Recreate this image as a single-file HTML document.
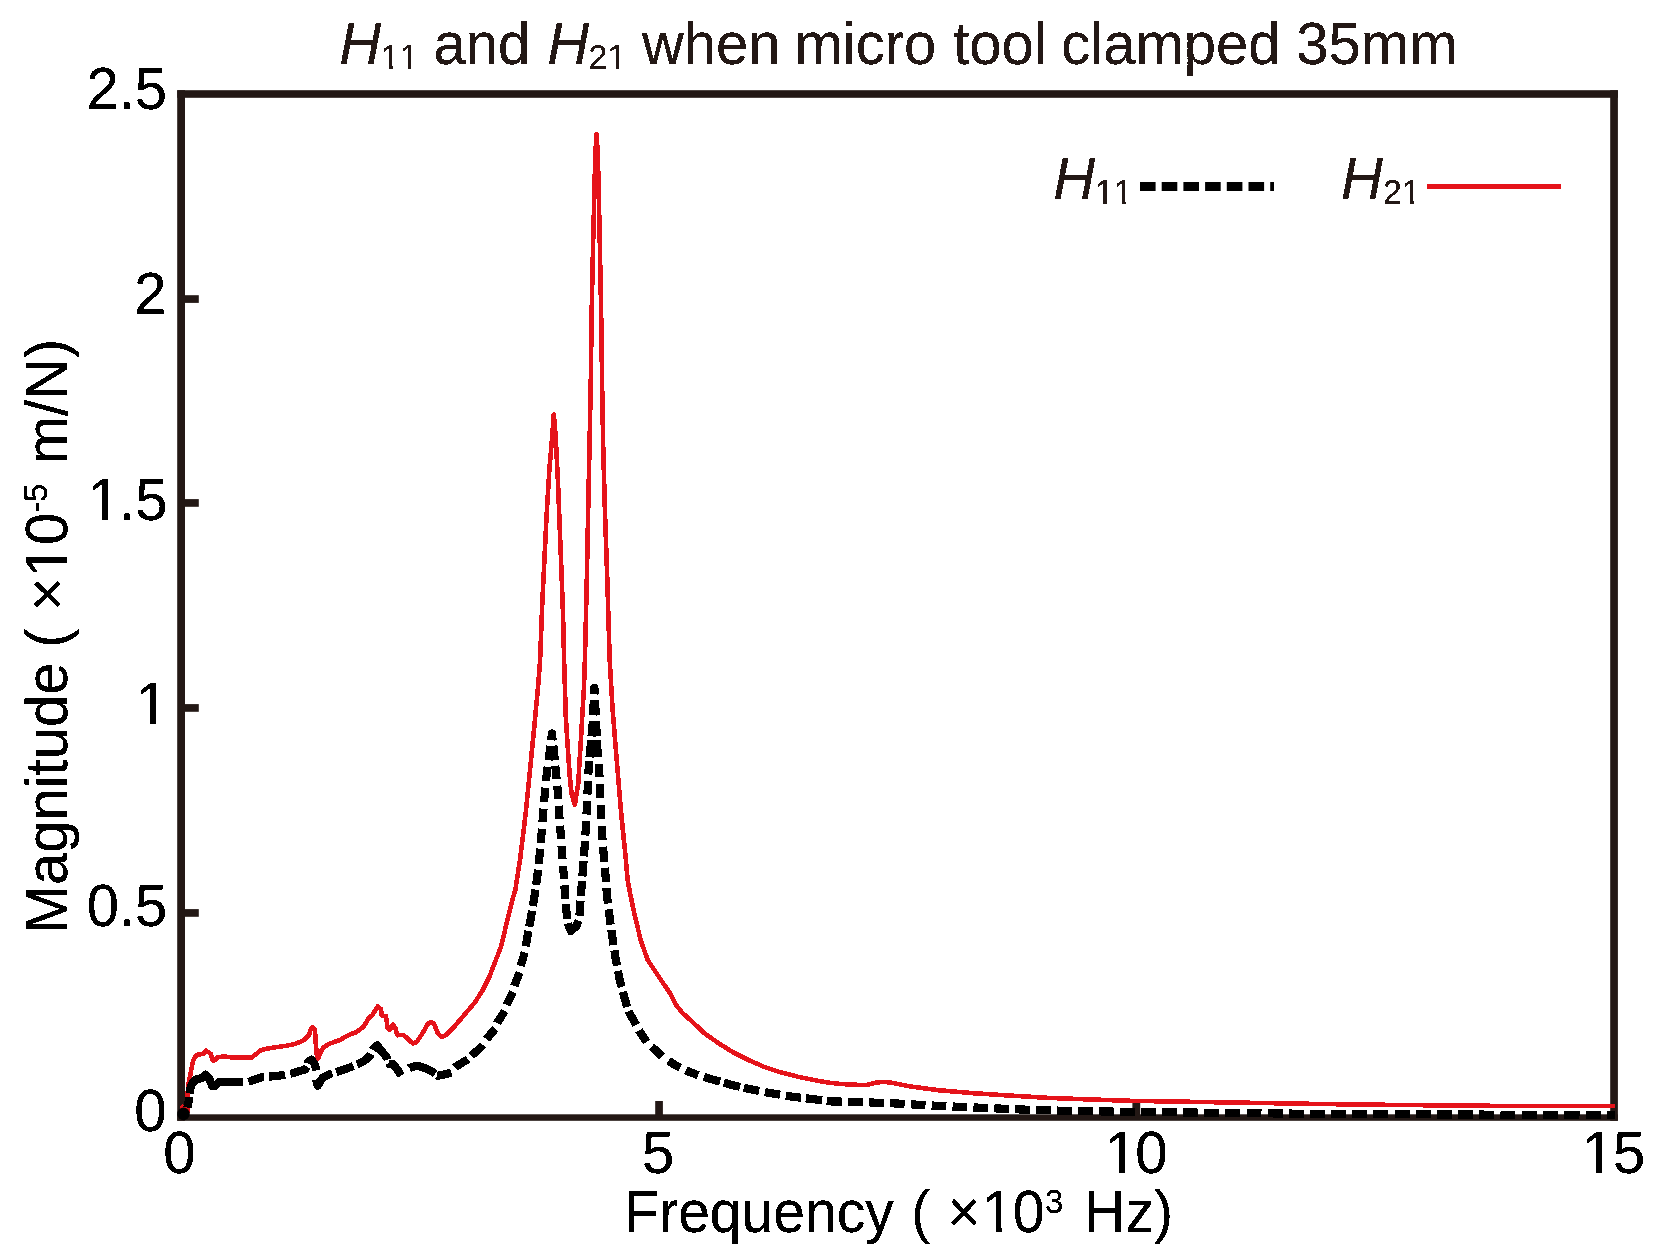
<!DOCTYPE html>
<html><head><meta charset="utf-8"><title>H11 and H21</title>
<style>
html,body{margin:0;padding:0;background:#fff;}
body{width:1661px;height:1259px;overflow:hidden;}
svg{display:block;}
text{font-family:"Liberation Sans",Arial,Helvetica,sans-serif;white-space:pre;font-kerning:none;}
.it{font-style:italic;}
</style></head><body>
<svg width="1661" height="1259" viewBox="0 0 1661 1259">
<rect width="1661" height="1259" fill="#fff"/>
<defs><filter id="bin" x="0" y="0" width="1661" height="1259" filterUnits="userSpaceOnUse" color-interpolation-filters="sRGB"><feComponentTransfer><feFuncA type="discrete" tableValues="0 1 1"/></feComponentTransfer></filter>
<clipPath id="c_title"><path clip-rule="evenodd" d="M-3000,-3000H3000V3000H-3000Z M383.14,1.92H389.18V6.55H383.14Z M392.47,1.92H398.24V6.55H392.47Z M401.94,1.92H407.98V6.55H401.94Z M411.27,1.92H417.04V6.55H411.27Z M609.67,1.92H615.71V6.55H609.67Z M618.99,1.92H624.77V6.55H618.99Z"/></clipPath>
<clipPath id="c_leg1"><path clip-rule="evenodd" d="M-3000,-3000H3000V3000H-3000Z M1097.29,1.44H1103.33V6.06H1097.29Z M1106.62,1.44H1112.39V6.06H1106.62Z M1116.09,1.44H1122.13V6.06H1116.09Z M1125.42,1.44H1131.19V6.06H1125.42Z"/></clipPath>
<clipPath id="c_leg2"><path clip-rule="evenodd" d="M-3000,-3000H3000V3000H-3000Z M1404.17,1.44H1410.21V6.06H1404.17Z M1413.49,1.44H1419.27V6.06H1413.49Z"/></clipPath>
<clipPath id="c_y15"><path clip-rule="evenodd" d="M-3000,-3000H3000V3000H-3000Z M91.65,-4.93H102.12V1.50H91.65Z M107.55,-4.93H117.57V1.50H107.55Z"/></clipPath>
<clipPath id="c_y10"><path clip-rule="evenodd" d="M-3000,-3000H3000V3000H-3000Z M139.80,-4.93H150.27V1.50H139.80Z M155.70,-4.93H165.71V1.50H155.70Z"/></clipPath>
<clipPath id="c_x10"><path clip-rule="evenodd" d="M-3000,-3000H3000V3000H-3000Z M1108.72,-4.93H1119.19V1.50H1108.72Z M1124.62,-4.93H1134.63V1.50H1124.62Z"/></clipPath>
<clipPath id="c_x15"><path clip-rule="evenodd" d="M-3000,-3000H3000V3000H-3000Z M1585.82,-4.93H1596.29V1.50H1585.82Z M1601.72,-4.93H1611.73V1.50H1601.72Z"/></clipPath>
<clipPath id="c_xlabel"><path clip-rule="evenodd" d="M-3000,-3000H3000V3000H-3000Z M985.72,-4.86H996.01V1.50H985.72Z M1001.34,-4.86H1011.19V1.50H1001.34Z"/></clipPath>
<clipPath id="c_ylabel"><path clip-rule="evenodd" d="M-3000,-3000H3000V3000H-3000Z M-573.23,-4.93H-562.76V1.50H-573.23Z M-557.33,-4.93H-547.32V1.50H-557.33Z"/></clipPath>
</defs>
<!-- frame -->
<g id="frame" fill="#231815">
<rect x="177.2" y="90.2" width="1440.7" height="7.6"/>
<rect x="177.2" y="90.2" width="7.8" height="1030.6"/>
<rect x="1610.2" y="90.2" width="7.7" height="1030.6"/>
<rect x="177.2" y="1114.3" width="1440.7" height="6.5"/>
<rect x="181" y="295.2" width="17.8" height="7.7"/>
<rect x="181" y="499.1" width="17.8" height="7.7"/>
<rect x="181" y="704.1" width="17.8" height="7.7"/>
<rect x="181" y="909.1" width="17.8" height="7.7"/>
<rect x="655.2" y="1101" width="7.7" height="16"/>
<rect x="1132.4" y="1101" width="7.8" height="16"/>
</g>
<!-- curves -->
<path id="h21" d="M180.8,1106.0 L184.5,1108.3 L187.7,1111.6 L187.9,1104.0 L187.6,1095.0 L188.0,1087.0 L189.2,1080.0 L190.3,1075.0 L191.6,1068.0 L193.2,1060.5 L195.2,1056.5 L197.3,1054.7 L199.3,1054.4 L203.6,1053.9 L206.0,1050.6 L210.8,1053.9 L212.3,1060.2 L215.2,1060.2 L217.6,1057.3 L223.4,1056.4 L231.1,1057.3 L251.8,1057.5 L260.9,1050.1 L266.7,1048.6 L276.3,1047.2 L286.0,1045.8 L295.6,1043.8 L303.3,1040.5 L309.1,1035.2 L310.5,1029.9 L312.5,1027.5 L314.9,1029.9 L315.8,1043.4 L316.8,1054.9 L318.2,1058.3 L320.7,1052.0 L323.5,1047.2 L330.3,1043.4 L339.6,1040.1 L351.2,1033.8 L356.0,1032.4 L363.7,1026.6 L368.5,1018.4 L372.4,1015.0 L377.7,1006.4 L381.1,1009.3 L381.5,1015.5 L385.9,1016.0 L387.8,1028.5 L389.7,1030.0 L393.1,1024.7 L395.5,1028.5 L397.4,1035.3 L403.2,1034.8 L407.1,1038.2 L412.9,1043.5 L416.7,1042.0 L422.5,1033.4 L428.3,1023.2 L431.2,1022.3 L434.0,1023.7 L437.9,1033.4 L441.8,1037.2 L445.6,1035.3 L455.2,1025.6 L464.9,1014.1 L474.5,1003.0 L482.9,989.8 L489.6,976.2 L496.2,959.1 L501.0,946.7 L503.6,935.9 L508.2,916.6 L512.0,901.2 L515.4,889.6 L516.8,880.0 L520.0,860.2 L525.8,812.5 L530.5,764.9 L534.3,726.7 L538.2,684.8 L540.1,660.0 L542.3,602.5 L544.5,558.0 L546.7,513.5 L549.4,469.0 L552.3,435.6 L553.8,414.5 L555.6,435.6 L557.9,480.1 L559.6,524.6 L561.4,569.1 L563.0,613.6 L564.1,660.0 L565.8,717.2 L569.6,774.4 L571.5,793.5 L574.8,804.9 L578.2,783.9 L581.1,736.3 L583.9,688.6 L584.9,660.0 L586.8,580.2 L588.1,513.5 L589.5,446.7 L590.8,380.0 L591.7,310.0 L593.1,243.3 L594.2,200.0 L595.2,157.0 L596.2,139.0 L596.5,134.0 L596.9,139.0 L597.9,157.0 L598.9,200.0 L599.8,243.3 L601.1,310.0 L602.2,389.8 L603.2,446.7 L605.0,513.5 L607.3,580.2 L609.7,660.0 L612.5,707.7 L616.3,755.3 L621.1,812.5 L625.9,860.2 L627.6,880.0 L630.5,895.3 L635.3,918.1 L641.0,941.0 L647.7,960.1 L655.3,971.5 L662.9,982.9 L669.6,992.5 L675.3,1003.9 L682.0,1012.5 L691.5,1021.1 L704.8,1033.5 L718.2,1043.0 L733.4,1052.5 L748.7,1060.1 L763.9,1066.8 L781.1,1072.5 L800.2,1077.3 L819.2,1081.1 L830.0,1082.8 L840.0,1083.9 L848.1,1084.4 L866.1,1085.2 L877.0,1082.4 L884.2,1081.9 L893.2,1083.0 L911.3,1086.6 L938.4,1090.2 L974.5,1093.3 L1010.6,1095.6 L1046.7,1097.8 L1082.8,1099.2 L1130.0,1100.8 L1250.0,1102.8 L1320.0,1104.0 L1400.0,1105.0 L1490.0,1105.8 L1615.1,1106.1" fill="none" stroke="#e5131a" stroke-width="4.6" stroke-linejoin="round" shape-rendering="crispEdges"/>
<path id="h11" d="M182.8,1116.5 L184.6,1111.5 L187.2,1108.0 L188.6,1102.0 L189.2,1096.5 L189.8,1091.0 L191.0,1086.0 L193.5,1081.5 L196.5,1079.2 L201.2,1078.2 L203.5,1077.0 L205.8,1074.7 L208.0,1077.0 L209.9,1080.0 L212.3,1086.2 L215.2,1085.7 L218.5,1082.4 L225.3,1081.9 L242.6,1081.9 L248.4,1081.9 L261.9,1077.1 L269.6,1076.6 L284.0,1075.1 L290.8,1073.7 L305.2,1069.4 L307.0,1066.0 L308.1,1061.7 L311.5,1059.7 L314.5,1064.0 L315.8,1067.4 L316.3,1080.0 L317.8,1085.7 L320.0,1081.5 L322.6,1078.0 L329.3,1074.2 L336.7,1071.9 L352.2,1066.6 L357.9,1064.2 L363.7,1061.3 L369.5,1056.5 L371.5,1052.5 L373.0,1049.5 L377.2,1045.4 L382.0,1051.7 L386.8,1057.4 L388.3,1061.5 L389.8,1064.3 L392.8,1063.8 L397.0,1069.0 L401.2,1075.6 L404.5,1073.5 L409.5,1068.0 L412.9,1067.0 L416.7,1065.6 L426.3,1068.5 L432.1,1071.4 L437.4,1075.8 L445.6,1074.2 L451.4,1072.3 L455.2,1067.1 L461.0,1063.4 L467.8,1059.4 L472.1,1055.0 L478.4,1049.7 L482.9,1044.9 L486.7,1039.1 L490.5,1034.2 L495.3,1028.7 L497.2,1022.9 L504.8,1011.0 L506.7,1004.8 L512.9,992.0 L514.4,985.8 L519.6,972.4 L520.6,965.7 L524.8,952.4 L527.0,938.8 L530.8,918.5 L534.2,898.3 L537.2,877.4 L539.5,856.4 L541.4,835.4 L542.9,816.4 L544.8,793.5 L546.7,774.4 L549.5,753.4 L551.9,733.5 L554.2,753.4 L555.9,772.5 L557.8,791.6 L559.1,812.5 L560.5,831.6 L562.0,852.6 L563.5,871.7 L564.9,892.6 L566.5,911.8 L568.0,923.5 L570.8,931.0 L576.5,926.0 L579.2,919.0 L581.4,888.8 L583.0,867.8 L584.5,848.8 L585.8,827.8 L586.8,808.7 L587.7,787.8 L588.7,766.8 L590.6,745.8 L592.5,726.7 L594.4,687.8 L595.4,707.7 L597.3,747.7 L599.2,769.6 L600.1,791.6 L601.1,812.5 L602.0,832.6 L603.6,853.5 L605.5,875.5 L606.9,895.4 L609.5,916.2 L612.4,937.2 L615.6,958.2 L619.6,979.1 L624.8,999.1 L628.6,1011.5 L632.4,1018.2 L636.2,1024.9 L639.1,1030.6 L642.9,1036.3 L646.7,1042.0 L651.5,1046.8 L657.2,1051.6 L662.0,1056.3 L668.6,1060.6 L673.4,1064.0 L680.1,1067.8 L685.8,1070.4 L691.5,1072.7 L698.2,1075.3 L711.5,1079.2 L731.5,1084.9 L752.5,1089.7 L772.5,1093.5 L793.5,1096.9 L813.5,1099.2 L830.0,1101.4 L857.1,1101.9 L898.6,1103.6 L938.4,1105.9 L979.9,1107.7 L1021.4,1109.5 L1064.8,1110.8 L1130.0,1111.9 L1320.0,1113.9 L1450.0,1114.5 L1615.1,1115.0" fill="none" stroke="#000" stroke-width="8.2" stroke-dasharray="0 10.01 10.87 3.53 72.33 5.8 16.23 5.31 16 5.41 18.74 3.21 17.8 9.5 25.73 4.29 18.1 3.91 17.9 4.29 24.31 3.4 19.25 11.34 28.1 2.89 14.46 6.44 15.06 5.01 15.67 6.93 13.5 6.1 14.12 6.48 14.22 6.38 14.37 6.77 13.95 6.28 15.43 4.37 16.15 4.87 16.6 4.75 15.32 5.73 15.38 5.72 14.35 6.72 13.34 6.72 14.36 6.73 14.3 6.76 14.41 5.74 13.29 5.74 14.38 5.72 13.36 6.73 13.44 6.61 13.43 6.62 13.43 6.72 13.34 6.72 13.33 6.21 13.84 4.82 15.09 4.54 21.48 5.02 14.94 4.81 14.94 4.71 15.25 4.81 15.24 5.71 14.32 6.71 13.41 6.61 13.41 6.61 13.43 3.82 17.28 3.72 15.35 5.71 15.32 5.71 13.02 5.71 15.32 5.71 15.32 3.7 17.24 6.73 13.33 6.71 14.31 6.71 14.32 6.71 14.33 6.62 15.25 5.82 14.34 6.12 15.48 5.85 15.53 5.25 15.16 5.36 15.63 5.4 16.41 4.96 15.81 4.71 15.41 6.4 13.7 6.79 14.17 7.88 13.58 6.26 13.33 5.94 16.86 3.95 16.72 3.9 15.64 5.8 15.43 5.88 15.35 4.83 16.33 4.74 14.93 6.4 14.75 6.17 14.75 6.17 14.75 6.17 14.75 6.17 14.75 6.17 14.75 6.17 14.75 6.17 14.75 6.17 14.75 6.17 14.75 6.17 14.75 6.17 14.75 6.17 14.75 6.17 14.9 6.23 14.9 6.23 14.9 6.23 14.9 6.23 14.9 6.23 14.9 6.23 14.9 6.23 14.9 6.23 14.9 6.23 14.92 6.25 14.92 6.25 14.92 6.25 14.92 6.25 14.92 6.25 14.92 6.25 14.92 6.25 14.92 6.25 14.92 6.25 14.92 6.25 14.92 6.25 14.92 6.25 15.51 6.49 14.81 6.2 8 2627.76" stroke-linejoin="round" shape-rendering="crispEdges"/>
<circle cx="183.5" cy="1113.9" r="6.3" fill="#000"/>
<!-- legend -->
<line x1="1140" y1="186.5" x2="1274" y2="186.5" stroke="#000" stroke-width="8.85" stroke-dasharray="15.6 6.1"/>
<line x1="1427" y1="186.5" x2="1561" y2="186.5" stroke="#e5131a" stroke-width="5.1"/>
<g filter="url(#bin)">
<text id="title" fill="#231815" font-size="58" clip-path="url(#c_title)" transform="translate(0,63.6) scale(1,1.03)"><tspan x="339.14" y="0.00" class="it">H</tspan><tspan x="380.83" y="5.05" font-size="33.8">11 </tspan><tspan x="433.40" y="0.00">and </tspan><tspan x="547.24" y="0.00" class="it">H</tspan><tspan x="588.56" y="5.05" font-size="33.8">21 </tspan><tspan x="641.90" y="0.00">when </tspan><tspan x="794.51" y="0.00">micro </tspan><tspan x="953.24" y="0.00">tool </tspan><tspan x="1061.27" y="0.00">clamped </tspan><tspan x="1296.34" y="0.00">35mm</tspan></text>
<text id="leg1" fill="#231815" font-size="58" clip-path="url(#c_leg1)" transform="translate(0,199.2) scale(1,1.03)"><tspan x="1053.34" y="0.00" class="it">H</tspan><tspan x="1094.98" y="4.56" font-size="33.8">11</tspan></text>
<text id="leg2" fill="#231815" font-size="58" clip-path="url(#c_leg2)" transform="translate(0,199.2) scale(1,1.03)"><tspan x="1341.04" y="0.00" class="it">H</tspan><tspan x="1383.06" y="4.56" font-size="33.8">21</tspan></text>
<text id="y25" fill="#000" font-size="58" transform="translate(0,108.8) scale(1,1.03)"><tspan x="86.40" y="0.00">2.5</tspan></text>
<text id="y20" fill="#000" font-size="58" transform="translate(0,313.8) scale(1,1.03)"><tspan x="134.25" y="0.00">2</tspan></text>
<text id="y15" fill="#000" font-size="58" clip-path="url(#c_y15)" transform="translate(0,520) scale(1,1.03)"><tspan x="87.69" y="0.00">1</tspan><tspan x="119.06" y="0.00">.5</tspan></text>
<text id="y10" fill="#000" font-size="58" clip-path="url(#c_y10)" transform="translate(0,724) scale(1,1.03)"><tspan x="135.83" y="0.00">1</tspan></text>
<text id="y05" fill="#000" font-size="58" transform="translate(0,925.8) scale(1,1.03)"><tspan x="86.70" y="0.00">0.5</tspan></text>
<text id="y00" fill="#000" font-size="58" transform="translate(0,1131) scale(1,1.03)"><tspan x="134.30" y="0.00">0</tspan></text>
<text id="x0" fill="#000" font-size="58" transform="translate(0,1173) scale(1,1.03)"><tspan x="163.35" y="0.00">0</tspan></text>
<text id="x5" fill="#000" font-size="58" transform="translate(0,1173) scale(1,1.03)"><tspan x="641.98" y="0.00">5</tspan></text>
<text id="x10" fill="#000" font-size="58" clip-path="url(#c_x10)" transform="translate(0,1173) scale(1,1.03)"><tspan x="1104.75" y="0.00">1</tspan><tspan x="1135.27" y="0.00">0</tspan></text>
<text id="x15" fill="#000" font-size="58" clip-path="url(#c_x15)" transform="translate(0,1173) scale(1,1.03)"><tspan x="1581.85" y="0.00">1</tspan><tspan x="1612.93" y="0.00">5</tspan></text>
<text id="xlabel" fill="#000" font-size="58" clip-path="url(#c_xlabel)" transform="translate(0,1232) scale(1,1.03)"><tspan x="624.37" y="0.00" font-size="57">Frequency </tspan><tspan x="911.36" y="0.00" font-size="57">( </tspan><tspan x="947.14" y="0.00" font-size="57">×</tspan><tspan x="981.82" y="0.00" font-size="57">1</tspan><tspan x="1012.70" y="0.00" font-size="57">0</tspan><tspan x="1044.92" y="-18.45" font-size="33">3 </tspan><tspan x="1084.36" y="0.00" font-size="57">Hz)</tspan></text>
<text id="ylabel" fill="#000" font-size="58" clip-path="url(#c_ylabel)" transform="translate(66.7,0) rotate(-90) scale(1,1.03)"><tspan x="-933.32" y="0.00">Magnitude </tspan><tspan x="-647.69" y="0.00">( </tspan><tspan x="-611.05" y="0.00">×</tspan><tspan x="-577.20" y="0.00">1</tspan><tspan x="-544.98" y="0.00">0</tspan><tspan x="-512.86" y="-18.83" font-size="33">-5 </tspan><tspan x="-464.34" y="0.00">m/N)</tspan></text>
</g>
</svg>
</body></html>
